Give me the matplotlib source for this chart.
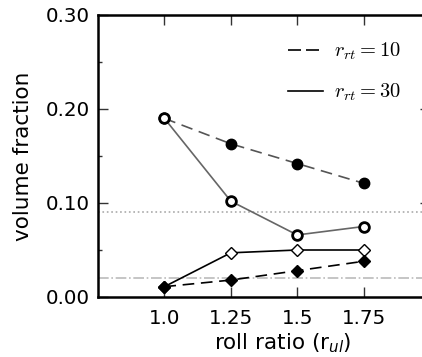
import matplotlib
matplotlib.use("Agg")
import matplotlib.pyplot as plt
from matplotlib.ticker import MultipleLocator

# roll ratio values
x = [1.0, 1.25, 1.5, 1.75]

# circles: r_rt=10 (filled, dashed) and r_rt=30 (open, solid)
circ_10 = [0.19, 0.163, 0.142, 0.121]
circ_30 = [0.19, 0.102, 0.066, 0.075]
# diamonds: r_rt=10 (filled, dashed) and r_rt=30 (open, solid)
diam_10 = [0.011, 0.018, 0.028, 0.038]
diam_30 = [0.011, 0.047, 0.050, 0.050]

ref_dotted = 0.09
ref_dashdot = 0.02

xticks = [1.0, 1.25, 1.5, 1.75]
xticklabels = ["1.0", "1.25", "1.5", "1.75"]
yticks = [0.0, 0.1, 0.2, 0.3]
yticklabels = ["0.00", "0.10", "0.20", "0.30"]

fig = plt.figure(figsize=(4.22, 3.57), dpi=100)
ax = fig.add_axes([98 / 422, 60 / 357, 332 / 422, 282 / 357])

ax.axhline(ref_dotted, color="#aaaaaa", linestyle=":", linewidth=1.2, zorder=1)
ax.axhline(ref_dashdot, color="#bbbbbb", linestyle="-.", linewidth=1.2, zorder=1)

ax.plot(x, circ_10, color="#555555", linestyle="--", dashes=(7, 4), linewidth=1.2,
        marker="o", markersize=7.5, markerfacecolor="black", markeredgecolor="black", zorder=3)
ax.plot(x, circ_30, color="#666666", linestyle="-", linewidth=1.2,
        marker="o", markersize=7, markerfacecolor="white", markeredgecolor="black",
        markeredgewidth=2, zorder=4)
ax.plot(x, diam_30, color="black", linestyle="-", linewidth=1.2,
        marker="D", markersize=6, markerfacecolor="white", markeredgecolor="black",
        markeredgewidth=1, zorder=3)
ax.plot(x, diam_10, color="black", linestyle="--", dashes=(7, 4), linewidth=1.2,
        marker="D", markersize=6, markerfacecolor="black", markeredgecolor="black", zorder=4)

# legend proxies
l1, = ax.plot([], [], color="black", linestyle="--", dashes=(7.8, 3), linewidth=1.2)
l2, = ax.plot([], [], color="black", linestyle="-", linewidth=1.2)
leg = ax.legend([l1, l2], [r"$r_{rt}=10$", r"$r_{rt}=30$"], loc="upper left",
                bbox_to_anchor=(0.518, 0.974), frameon=False, handlelength=1.7,
                handletextpad=0.5, labelspacing=0.95,
                prop={"size": 14.8, "math_fontfamily": "cm"})

ax.set_xlim(0.75, 2.0)
ax.set_ylim(0.0, 0.3)
ax.set_xticks(xticks)
ax.set_xticklabels(xticklabels)
ax.set_yticks(yticks)
ax.set_yticklabels(yticklabels)
ax.yaxis.set_minor_locator(MultipleLocator(0.05))

ax.tick_params(which="both", direction="in", top=True, right=True, labelsize=14.3,
               width=1, color="#333333")
ax.tick_params(which="major", length=7, pad=6)
ax.tick_params(axis="x", which="minor", bottom=False, top=False)
ax.tick_params(axis="y", which="minor", length=3)
ax.tick_params(axis="x", pad=9)

for s in ax.spines.values():
    s.set_linewidth(1.8)

ax.set_ylabel("volume fraction", fontsize=15.5, labelpad=9)
fig.text(283 / 422, (357 - 343) / 357, r"roll ratio (r$_{\mathit{ul}}$)", fontsize=15.5,
         ha="center", va="center", math_fontfamily="dejavusans")

fig.savefig("out.png", dpi=100)
